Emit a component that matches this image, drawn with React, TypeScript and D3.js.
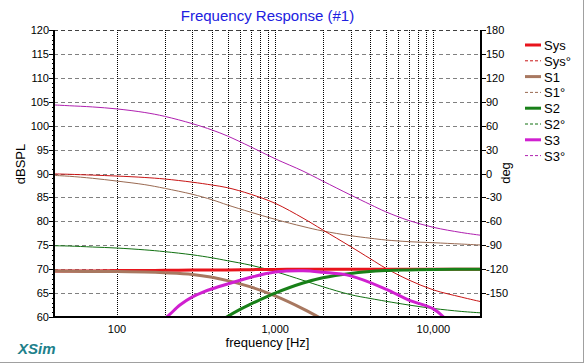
import React from "react";
import * as d3 from "d3";

// ---------- data ----------
const freqs = [40, 50, 70, 100, 150, 200, 300, 400, 500, 700, 1000, 1500, 2000, 3000, 4000, 5000, 7000, 10000, 15000, 20000];

const sysDb = [69.6, 69.6, 69.6, 69.7, 69.7, 69.75, 69.8, 69.8, 69.85, 69.9, 69.95, 70, 70, 70, 70, 70, 70, 70, 70, 70];
const sysDeg = [-0.5, -1.0, -2.0, -3.2, -5.0, -6.9, -10.9, -14.5, -17.8, -26, -37.4, -56, -70.8, -91.7, -107, -118.8, -133.6, -146, -155, -160.8];
const s1Deg = [-2.4, -3.5, -6, -9.5, -14, -18.6, -26.1, -33, -39.5, -48.5, -57.5, -66.5, -72.1, -78, -81.2, -83.4, -85.5, -86.8, -88.5, -89.7];
const s2Deg = [-90.6, -91, -92.2, -93.5, -95.8, -98, -102, -105.8, -109.4, -115, -123, -134, -142, -152, -156.8, -160.2, -165, -169.3, -173, -174.8];
const s3Deg = [86, 85, 83.5, 81, 76.5, 71.7, 62.5, 54.5, 47, 33.5, 18.5, 3, -9.5, -27, -39, -48, -59, -67.5, -74, -77.5];

const s1Freqs = [40, 50, 70, 100, 150, 200, 300, 400, 500, 700, 1000, 1500, 2000];
const s1Db = [69.6, 69.55, 69.5, 69.5, 69.4, 69.25, 68.9, 68.3, 67.6, 66.3, 64.4, 61.7, 59.5];

const s2Freqs = [450, 500, 600, 700, 800, 1000, 1500, 2000, 3000, 5000, 7000, 10000, 20000];
const s2Db = [59.1, 60.1, 61.6, 62.7, 63.6, 65.0, 67.1, 68.2, 69.1, 69.7, 69.85, 69.95, 70];

const s3Freqs = [190, 206, 250, 300, 350, 400, 500, 700, 1000, 1500, 2000, 3000, 5000, 7000, 10000, 12000];
const s3Db = [59.4, 60, 62.5, 64.2, 65.2, 65.9, 66.9, 68.3, 69.4, 69.68, 69.35, 68.6, 65.85, 63.55, 61.7, 59.5];

const leftTicks = [60, 65, 70, 75, 80, 85, 90, 95, 100, 105, 110, 115, 120];
const rightTicks = [180, 150, 120, 90, 60, 30, 0, -30, -60, -90, -120, -150];
const xLabels = [100, 1000, 10000];
const xGrid = [100, 200, 300, 400, 500, 600, 700, 800, 900, 1000, 2000, 3000, 4000, 5000, 6000, 7000, 8000, 9000, 10000];

const legendNames = ["Sys", "Sys°", "S1", "S1°", "S2", "S2°", "S3", "S3°"];

// ---------- styling ----------
const RED = "#e8141c";
const RED_T = "#c81414";
const BROWN = "#a87860";
const BROWN_T = "#9a6a52";
const GREEN = "#188018";
const GREEN_T = "#107010";
const MAG = "#d020d0";
const MAG_T = "#b020b0";
const FONT = "'Liberation Sans', Arial, sans-serif";

const W = 587, H = 364;
const L = 54, R = 481, T = 30, B = 317;

export default function App() {
  const x = d3.scaleLog().domain([40, 20000]).range([L, R]);
  const y = d3.scaleLinear().domain([60, 120]).range([B, T]);
  const yd = d3.scaleLinear().domain([-180, 180]).range([B, T]);

  const mk = (xs: number[], ys: number[], sc: d3.ScaleLinear<number, number>) =>
    d3.line<number>().x((_, i) => x(xs[i])).y((v) => sc(v)).curve(d3.curveCatmullRom.alpha(0.5))(ys) || "";

  const series = [
    { d: mk(freqs, s2Deg, yd), c: GREEN_T, w: 1 },
    { d: mk(freqs, s1Deg, yd), c: BROWN_T, w: 1 },
    { d: mk(freqs, sysDeg, yd), c: RED_T, w: 1 },
    { d: mk(freqs, s3Deg, yd), c: MAG_T, w: 1 },
    { d: mk(freqs, sysDb, y), c: RED, w: 3 },
    { d: mk(s1Freqs, s1Db, y), c: BROWN, w: 3 },
    { d: mk(s2Freqs, s2Db, y), c: GREEN, w: 3 },
    { d: mk(s3Freqs, s3Db, y), c: MAG, w: 3 },
  ];

  const legendColors = [RED, RED_T, BROWN, BROWN_T, GREEN, GREEN_T, MAG, MAG_T];

  const minor: number[] = [];
  for (let v = 60; v <= 120; v++) if (v % 5 !== 0) minor.push(v);

  return (
    <svg width={W} height={H} style={{ position: "absolute", left: 0, top: 0, background: "#fff" }}>
      <defs>
        <clipPath id="plot">
          <rect x={L} y={T} width={R - L} height={B - T} />
        </clipPath>
      </defs>
      <rect x={0} y={0} width={W} height={H} fill="#fff" />
      {/* window frame */}
      <line x1={583.5} y1={0} x2={583.5} y2={363} stroke="#a0a0a0" />
      <line x1={0} y1={362.5} x2={584} y2={362.5} stroke="#a0a0a0" />

      {/* title */}
      <text x={(L + R) / 2} y={21} textAnchor="middle" fontFamily={FONT} fontSize={15} fill="#2020e0">
        Frequency Response (#1)
      </text>

      {/* horizontal grid */}
      {leftTicks.slice(1).map((v) => (
        <line key={"h" + v} x1={L} x2={R} y1={Math.round(y(v)) + 0.5} y2={Math.round(y(v)) + 0.5}
          stroke={v === 120 ? "#404040" : "#808080"} strokeDasharray="4,3" />
      ))}
      {/* vertical grid */}
      {xGrid.map((f) => (
        <line key={"v" + f} x1={Math.round(x(f)) + 0.5} x2={Math.round(x(f)) + 0.5} y1={T} y2={B}
          stroke="#000" strokeDasharray="1,1" />
      ))}

      {/* curves */}
      <g clipPath="url(#plot)" fill="none">
        {series.map((s, i) => (
          <path key={i} d={s.d} stroke={s.c} strokeWidth={s.w} strokeLinejoin="round" />
        ))}
      </g>

      {/* axes */}
      <line x1={L} x2={L} y1={T} y2={B + 1} stroke="#000" strokeWidth={2} />
      <line x1={R} x2={R} y1={T} y2={B + 1} stroke="#000" strokeWidth={2} />
      <line x1={L - 1} x2={R + 1} y1={B} y2={B} stroke="#000" strokeWidth={2} />

      {/* left ticks */}
      {leftTicks.map((v) => (
        <g key={"lt" + v}>
          <line x1={L - 5} x2={L} y1={Math.round(y(v)) + 0.5} y2={Math.round(y(v)) + 0.5} stroke="#000" />
          <text x={L - 5} y={y(v) + 4} textAnchor="end" fontFamily={FONT} fontSize={11} fill="#000">{v}</text>
        </g>
      ))}
      {minor.map((v) => (
        <line key={"mn" + v} x1={L - 2} x2={L} y1={Math.round(y(v)) + 0.5} y2={Math.round(y(v)) + 0.5} stroke="#000" />
      ))}

      {/* right ticks */}
      {rightTicks.map((v) => (
        <g key={"rt" + v}>
          <line x1={R} x2={R + 5} y1={Math.round(yd(v)) + 0.5} y2={Math.round(yd(v)) + 0.5} stroke="#000" />
          <text x={R + 5} y={yd(v) + 4} textAnchor="start" fontFamily={FONT} fontSize={11} fill="#000">{v}</text>
        </g>
      ))}

      {/* x labels */}
      {xLabels.map((f) => (
        <text key={"xl" + f} x={x(f)} y={333} textAnchor="middle" fontFamily={FONT} fontSize={11} fill="#000">
          {d3.format(",")(f)}
        </text>
      ))}

      {/* axis titles */}
      <text x={(L + R) / 2} y={347} textAnchor="middle" fontFamily={FONT} fontSize={13} fill="#000">frequency [Hz]</text>
      <text transform={`translate(25,164) rotate(-90)`} textAnchor="middle" fontFamily={FONT} fontSize={13} fill="#000">dBSPL</text>
      <text transform={`translate(510,173) rotate(-90)`} textAnchor="middle" fontFamily={FONT} fontSize={13} fill="#000">deg</text>

      {/* legend */}
      {legendNames.map((n, i) => {
        const ly = 45 + i * 15.8;
        const solid = i % 2 === 0;
        return (
          <g key={"lg" + n}>
            <line x1={525} x2={541} y1={ly} y2={ly} stroke={legendColors[i]} strokeWidth={solid ? 3 : 1}
              strokeDasharray={solid ? undefined : "3,2"} />
            <text x={544} y={ly + 5} fontFamily={FONT} fontSize={13} fill="#000">{n}</text>
          </g>
        );
      })}

      {/* XSim logo */}
      <text x={18} y={354} fontFamily={FONT} fontSize={15} fontWeight="bold" fontStyle="italic" fill="#20808a">XSim</text>
    </svg>
  );
}
